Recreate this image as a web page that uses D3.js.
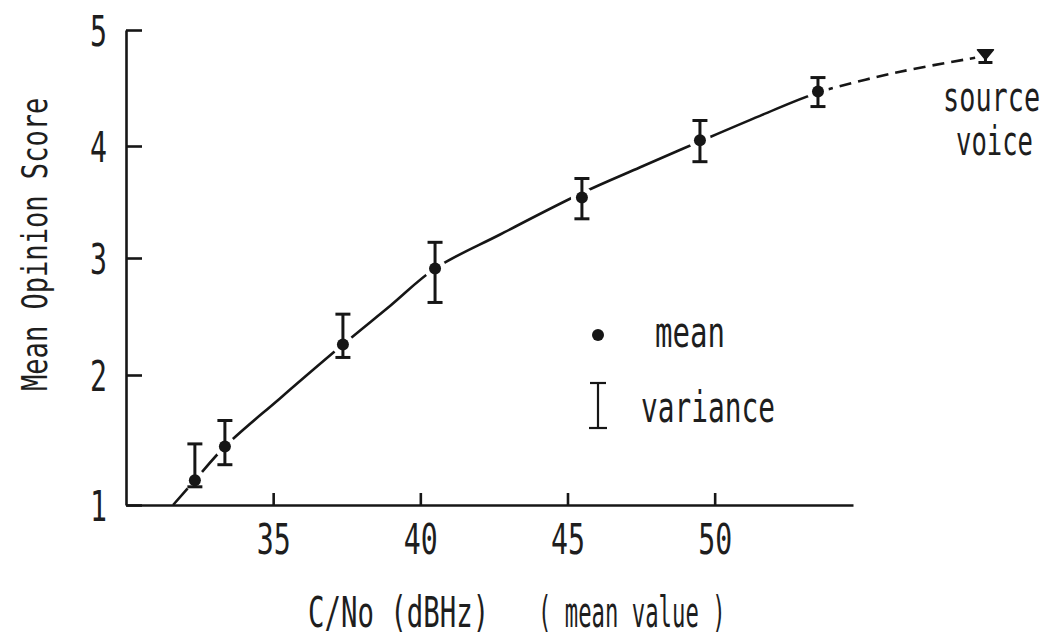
<!DOCTYPE html>
<html>
<head>
<meta charset="utf-8">
<script src="https://cdn.jsdelivr.net/npm/d3@7/dist/d3.min.js"></script>
<style>
  html, body { margin: 0; padding: 0; background: #fff; }
  svg { display: block; }
  text { font-family: "DejaVu Sans Mono", "Liberation Mono", monospace; fill: #1e1e1e; }
</style>
</head>
<body>
<svg id="chart" width="1051" height="638"></svg>
<script>
// Carrier-to-noise density (dBHz) of each listening test condition
const cn = [32.34, 33.36, 37.37, 40.50, 45.49, 49.50, 53.51];
// Mean opinion score and the spread shown by the bars
const mos = [1.19, 1.45, 2.26, 2.91, 3.54, 4.05, 4.47];
const mosHigh = [1.47, 1.65, 2.52, 3.14, 3.71, 4.22, 4.59];
const mosLow = [1.14, 1.31, 2.15, 2.62, 3.35, 3.86, 4.34];

// Hand-fitted trend: measured range, then extrapolated towards the source voice
const fitCn = [31.6, 32.34, 33.36, 35.23, 37.37, 38.97, 40.50, 42.71, 45.49, 47.47, 49.50, 51.54, 53.51, 56.3, 58.85];
const fitMos = [1.00, 1.19, 1.45, 1.82, 2.26, 2.59, 2.91, 3.21, 3.58, 3.81, 4.04, 4.26, 4.46, 4.64, 4.76];
const lastMeasuredCn = 53.51;

// Reference score of the unprocessed source voice
const sourceCn = 59.2;
const sourceMos = 4.78;
const sourceHigh = 4.83;
const sourceLow = 4.72;

const xTicks = [35, 40, 45, 50];
const yTicks = [1, 2, 3, 4, 5];

const svg = d3.select("#chart");
const ink = "#161616";

const x = d3.scaleLinear().domain([30, 54.7]).range([126, 853]);
const y = d3.scaleLinear().domain(yTicks).range([505, 375, 258, 146, 30]);

// narrow the glyphs of a text so that it spans len pixels from (x0, y0)
function squeeze(sel, x0, y0, len, extra) {
  const w = sel.node().getComputedTextLength();
  sel.attr("x", 0).attr("y", 0)
    .attr("transform", `translate(${x0},${y0})${extra || ""} scale(${len / w},1)`);
  return sel;
}
function label(parent, str, x0, y0, adv, size, extra) {
  const t = parent.append("text").attr("font-size", size).text(str);
  return squeeze(t, x0, y0, str.length * adv, extra);
}

// ---- axes ----
const gx = svg.append("g").attr("transform", `translate(0,${y(1)})`)
  .call(d3.axisBottom(x).tickValues(xTicks).tickSizeInner(-12).tickSizeOuter(0).tickFormat(d3.format("d")));
const gy = svg.append("g").attr("transform", `translate(${x(30)},0)`)
  .call(d3.axisLeft(y).tickValues(yTicks).tickSizeInner(-16).tickSizeOuter(0).tickFormat(d3.format("d")));

[gx, gy].forEach(g => {
  g.attr("font-family", null).attr("font-size", null);
  g.select(".domain").attr("stroke", ink).attr("stroke-width", 2.6);
  g.selectAll(".tick line").attr("stroke", ink).attr("stroke-width", 2.6);
  g.selectAll(".tick text").attr("fill", null).attr("font-size", 42)
    .attr("text-anchor", "start").attr("dy", null);
});

gx.selectAll(".tick text").each(function(d) {
  const len = String(d).length * 17;
  squeeze(d3.select(this), -len / 2, 49, len);
});
gy.selectAll(".tick text").each(function(d) {
  const len = String(d).length * 17;
  squeeze(d3.select(this), -19 - len, 15, len);
});

// axis titles
label(svg, "Mean Opinion Score", 47, 391, 16.3, 36, " rotate(-90)");
label(svg, "C/No  (dBHz)", 308, 627, 15.1, 42);
label(svg, "( mean value )", 538, 627, 13.4, 42);

// ---- fitted curve ----
const line = d3.line().x((d, i) => x(fitCn[i])).y(d => y(d)).curve(d3.curveCatmullRom.alpha(0.5));
const defs = svg.append("defs");
defs.append("clipPath").attr("id", "measured")
  .append("rect").attr("x", 0).attr("y", 0).attr("width", x(lastMeasuredCn)).attr("height", 638);
defs.append("clipPath").attr("id", "extrapolated")
  .append("rect").attr("x", x(lastMeasuredCn)).attr("y", 0).attr("width", 1051).attr("height", 638);

svg.append("path").datum(fitMos).attr("d", line)
  .attr("fill", "none").attr("stroke", ink).attr("stroke-width", 2.6)
  .attr("clip-path", "url(#measured)");
svg.append("path").datum(fitMos).attr("d", line)
  .attr("fill", "none").attr("stroke", ink).attr("stroke-width", 2.6)
  .attr("stroke-dasharray", "12,7")
  .attr("clip-path", "url(#extrapolated)");

// clear a small gap in the curve round every marker
svg.append("g").selectAll("circle").data(mos).join("circle")
  .attr("cx", (d, i) => x(cn[i])).attr("cy", d => y(d)).attr("r", 11).attr("fill", "#fff");

// ---- spread bars and means ----
const bars = svg.append("g").attr("stroke", ink).attr("stroke-width", 3);
bars.selectAll("line.v").data(mos).join("line").attr("class", "v")
  .attr("x1", (d, i) => x(cn[i])).attr("x2", (d, i) => x(cn[i]))
  .attr("y1", (d, i) => y(mosHigh[i])).attr("y2", (d, i) => y(mosLow[i]));
bars.selectAll("line.hi").data(mos).join("line").attr("class", "hi")
  .attr("x1", (d, i) => x(cn[i]) - 7.5).attr("x2", (d, i) => x(cn[i]) + 7.5)
  .attr("y1", (d, i) => y(mosHigh[i])).attr("y2", (d, i) => y(mosHigh[i]));
bars.selectAll("line.lo").data(mos).join("line").attr("class", "lo")
  .attr("x1", (d, i) => x(cn[i]) - 7.5).attr("x2", (d, i) => x(cn[i]) + 7.5)
  .attr("y1", (d, i) => y(mosLow[i])).attr("y2", (d, i) => y(mosLow[i]));

svg.append("g").selectAll("circle").data(mos).join("circle")
  .attr("cx", (d, i) => x(cn[i])).attr("cy", d => y(d)).attr("r", 6).attr("fill", ink);

// source voice marker: downward triangle on a short bar
const sx = x(sourceCn);
svg.append("line").attr("x1", sx).attr("x2", sx).attr("y1", y(sourceHigh)).attr("y2", y(sourceLow))
  .attr("stroke", ink).attr("stroke-width", 3);
svg.append("line").attr("x1", sx - 7).attr("x2", sx + 7).attr("y1", y(sourceLow)).attr("y2", y(sourceLow))
  .attr("stroke", ink).attr("stroke-width", 3);
svg.append("path")
  .attr("d", `M${sx - 8},${y(sourceHigh)} L${sx + 8},${y(sourceHigh)} L${sx},${y(sourceMos) + 4} Z`)
  .attr("fill", ink).attr("stroke", ink).attr("stroke-width", 1.5).attr("stroke-linejoin", "round");

label(svg, "source", 943, 111, 16.2, 40);
label(svg, "voice", 956, 155, 15.4, 40);

// ---- key ----
svg.append("circle").attr("cx", 598).attr("cy", 335).attr("r", 6).attr("fill", ink);
label(svg, "mean", 655, 347, 17.5, 43);
const key = svg.append("g").attr("stroke", ink).attr("stroke-width", 2.2);
key.append("line").attr("x1", 598).attr("x2", 598).attr("y1", 383).attr("y2", 428);
key.append("line").attr("x1", 590).attr("x2", 606).attr("y1", 383).attr("y2", 383);
key.append("line").attr("x1", 589).attr("x2", 607).attr("y1", 428).attr("y2", 428);
label(svg, "variance", 641, 422, 16.75, 43);
</script>
</body>
</html>
